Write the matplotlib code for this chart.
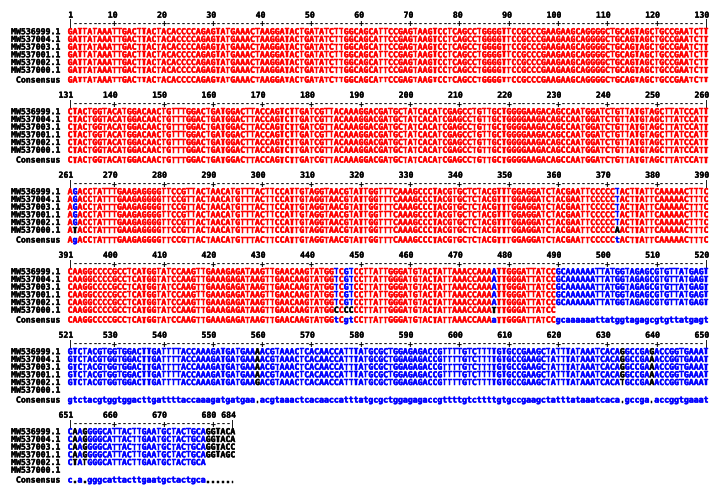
import matplotlib
matplotlib.use("Agg")
import matplotlib.pyplot as plt
import matplotlib.patheffects as pe
from collections import Counter

# ---------------------------------------------------------------------------
# Alignment data (MultAlin style), one string per 130-column block
# ---------------------------------------------------------------------------
names = ["MW536999.1", "MW537004.1", "MW537003.1",
         "MW537001.1", "MW537002.1", "MW537000.1"]
block_starts = [1, 131, 261, 391, 521, 651]

blk1 = "GATTATAAATTGACTTACTACACCCCAGAGTATGAAACTAAGGATACTGATATCTTGGCAGCATTCCGAGTAAGTCCTCAGCCTGGGGTTCCGCCCGAAGAAGCAGGGGCTGCAGTAGCTGCCGAATCTT"
blk2 = "CTACTGGTACATGGACAACTGTTTGGACTGATGGACTTACCAGTCTTGATCGTTACAAAGGACGATGCTATCACATCGAGCCTGTTGCTGGGGAAGACAGCCAATGGATCTGTTATGTAGCTTATCCATT"
blk3 = "AGACCTATTTGAAGAGGGGTTCCGTTACTAACATGTTTACTTCCATTGTAGGTAACGTATTGGTTTCAAAGCCCTACGTGCTCTACGTTTGGAGGATCTACGAATTCCCCCTACTTATTCAAAAACTTTC"
blk3_000 = "ATACCTATTTGAAGAGGGGTTCCGTTACTAACATGTTTACTTCCATTGTAGGTAACGTATTGGTTTCAAAGCCCTACGTGCTCTACGTTTGGAGGATCTACGAATTCCCCCAACTTATTCAAAAACTTTC"
blk4 = "CAAGGCCCCGCCTCATGGTATCCAAGTTGAAAGAGATAAGTTGAACAAGTATGGTCGTCCTTATTGGGATGTACTATTAAACCAAAATTGGGATTATCCGCAAAAAATTATGGTAGAGCGTGTTATGAGT"
blk4_000 = "CAAGGCCCCGCCTCATGGTATCCAAGTTGAAAGAGATAAGTTGAACAAGTATGGCCCCCCTTATTGGGATGTACTATTAAACCAAATTTGGGATTATCC"
blk5_999 = "GTCTACGTGGTGGACTTGATTTTACCAAAGATGATGAAAACGTAAACTCACAACCATTTATGCGCTGGAGAGACCGTTTTGTCTTTTGTGCCGAAGCTATTTATAAATCACAGGCCGAGACCGGTGAAAT"
blk5 = "GTCTACGTGGTGGACTTGATTTTACCAAAGATGATGAAAACGTAAACTCACAACCATTTATGCGCTGGAGAGACCGTTTTGTCTTTTGTGCCGAAGCTATTTATAAATCACAGGCCGAAACCGGTGAAAT"
blk5_002 = "GTCTACGTGGTGGACTTGATTTTACCAAAGATGATGAAGACGTAAACTCACAACCATTTATGCGCTGGAGAGACCGTTTTGTCTTTTGTGCCGAAGCTATTTATAAATCACATGCCGAAACCGGTGAAAT"
blk6 = "CAAGGGGCATTACTTGAATGCTACTGCAGGTACA"
blk6_003 = "CAAGGGGCATTACTTGAATGCTACTGCAGGTACC"
blk6_001 = "CAAGGGGCATTACTTGAATGCTACTGCAGGTAGC"
blk6_002 = "CTATGGGCATTACTTGAATGCTACTGCA"

seqs = [
    [blk1, blk2, blk3, blk4, blk5_999, blk6],       # MW536999.1
    [blk1, blk2, blk3, blk4, blk5, blk6],           # MW537004.1
    [blk1, blk2, blk3, blk4, blk5, blk6_003],       # MW537003.1
    [blk1, blk2, blk3, blk4, blk5, blk6_001],       # MW537001.1
    [blk1, blk2, blk3, blk4, blk5_002, blk6_002],   # MW537002.1
    [blk1, blk2, blk3_000, blk4_000, "", ""],       # MW537000.1
]

RED, BLUE, BLACK = "#ff0000", "#0000ff", "#000000"

# ---------------------------------------------------------------------------
# Layout (pixel coordinates)
# ---------------------------------------------------------------------------
W, H = 721, 494
x0 = 67.6          # left edge of the first column
pitch = 4.93       # column width
name_right = 59.8
block_step = 80.0
ruler_y0 = 24.0
row_step = 7.7
font = dict(family="DejaVu Sans Mono", fontweight="bold", fontsize=5.9)


def heavy(colour, lw=0.35):
    # a thin outline in the text colour makes the tiny glyphs look heavier
    return [pe.withStroke(linewidth=lw, foreground=colour)]


fig = plt.figure(figsize=(W / 100, H / 100), dpi=100)
ax = fig.add_axes([0, 0, 1, 1])
ax.set_xlim(0, W)
ax.set_ylim(H, 0)
ax.axis("off")

nseq = len(names)
for b, start in enumerate(block_starts):
    rows = [s[b] for s in seqs]
    width = max(len(r) for r in rows)
    ry = ruler_y0 + b * block_step

    # ruler and position numbers
    for i in range(width):
        pos = start + i
        xc = x0 + pitch * (i + 0.5)
        if i == 0 or i == width - 1:
            ch = "|"
        elif pos % 10 == 0:
            ch = "+"
        else:
            ch = "-"
        ax.text(xc, ry, ch, ha="center", va="center", color=BLACK, **font)
        if i == 0 or i == width - 1 or pos % 10 == 0:
            ax.text(x0 + pitch * (i + 1) + 0.6, ry - 8.8, str(pos),
                    ha="right", va="center", color=BLACK,
                    path_effects=heavy(BLACK, 0.2), **font)

    # consensus per column
    cons, level = [], []
    for i in range(width):
        col = [r[i] if i < len(r) else "-" for r in rows]
        res = [c for c in col if c != "-"]
        if res:
            best, n = Counter(res).most_common(1)[0]
        else:
            best, n = ".", 0
        if n == nseq:
            cons.append(best.upper()); level.append("high")
        elif n >= nseq - 1:
            cons.append(best.lower()); level.append("low")
        else:
            cons.append("."); level.append(None)

    def colour(ch, i):
        if level[i] == "high" and ch.upper() == cons[i].upper():
            return RED
        if level[i] == "low" and ch.upper() == cons[i].upper():
            return BLUE
        return BLACK

    # sequence rows
    for k, r in enumerate(rows):
        y = ry + row_step * (k + 1)
        ax.text(name_right, y, names[k], ha="right", va="center",
                color=BLACK, path_effects=heavy(BLACK, 0.25), **font)
        for i, ch in enumerate(r):
            c = colour(ch, i)
            ax.text(x0 + pitch * (i + 0.5), y, ch, ha="center", va="center",
                    color=c, path_effects=heavy(c), **font)

    # consensus row
    y = ry + 56.0
    ax.text(name_right, y, "Consensus", ha="right", va="center",
            color=BLACK, path_effects=heavy(BLACK, 0.25), **font)
    for i, ch in enumerate(cons):
        c = colour(ch, i)
        ax.text(x0 + pitch * (i + 0.5), y, ch, ha="center", va="center",
                color=c, path_effects=heavy(c), **font)

fig.savefig("out.png", dpi=100)
plt.close(fig)
